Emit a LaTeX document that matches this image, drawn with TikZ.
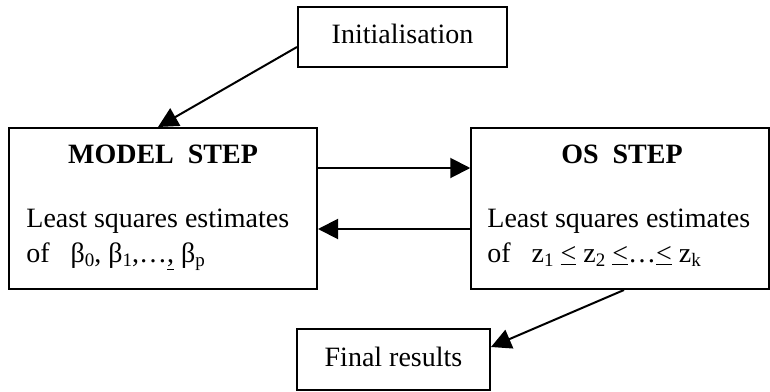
\documentclass[tikz,border=0pt]{standalone}
\usepackage{fontspec}
\setmainfont{Liberation Serif}
\usetikzlibrary{arrows.meta}
\newcommand\lsub[1]{\raisebox{-2pt}{\fontsize{9.5}{10}\selectfont #1}}
\begin{document}
\begin{tikzpicture}[x=0.5pt,y=-0.5pt,
  box/.style={draw,line width=1pt,inner sep=0pt},
  txt/.style={inner sep=0pt,font=\fontsize{14}{17}\selectfont},
  conn/.style={line width=1pt,-{Triangle[length=10pt,width=10pt]}}]
\useasboundingbox (0,0) rectangle (770,391);
\node[box,minimum width=104.5pt,minimum height=30pt] (init) at (402.5,37) {};
\node[box,minimum width=154pt,minimum height=80.5pt] (model) at (163,208.5) {};
\node[box,minimum width=148.75pt,minimum height=80.5pt] (os) at (620,208.5) {};
\node[box,minimum width=96.5pt,minimum height=30.5pt] (final) at (393.5,359.5) {};
\node[txt,anchor=base] (tinit) at (402.5,43) {Initialisation};
\node[txt,anchor=base] (tfinal) at (393.5,366) {Final results};
\node[txt,anchor=base] (tmodel) at (163,163) {\bfseries MODEL\ \ STEP};
\node[txt,anchor=base west] (m1) at (26,227) {Least squares estimates};
\node[txt,anchor=base west] (m2) at (26,262) {of\hspace{0.75em}β\lsub{0}, β\lsub{1},…\underline{,} β\lsub{p}};
\node[txt,anchor=base] (tos) at (622,163) {\bfseries OS\ \ STEP};
\node[txt,anchor=base west] (o1) at (487,227) {Least squares estimates};
\node[txt,anchor=base west] (o2) at (487,262) {of\hspace{0.75em}z\lsub{1} \underline{<} z\lsub{2} \underline{<}…\underline{<} z\lsub{k}};
\draw[conn] ([yshift=-5pt]init.west) -- ([xshift=-2.5pt]model.north);
\draw[conn] ([yshift=20.25pt]model.east) -- ([yshift=20.25pt]os.west);
\draw[conn] ([yshift=-10.25pt]os.west) -- ([yshift=-10.25pt]model.east);
\draw[conn] ([xshift=2pt]os.south) -- ([yshift=6.25pt]final.east);
\end{tikzpicture}
\end{document}
